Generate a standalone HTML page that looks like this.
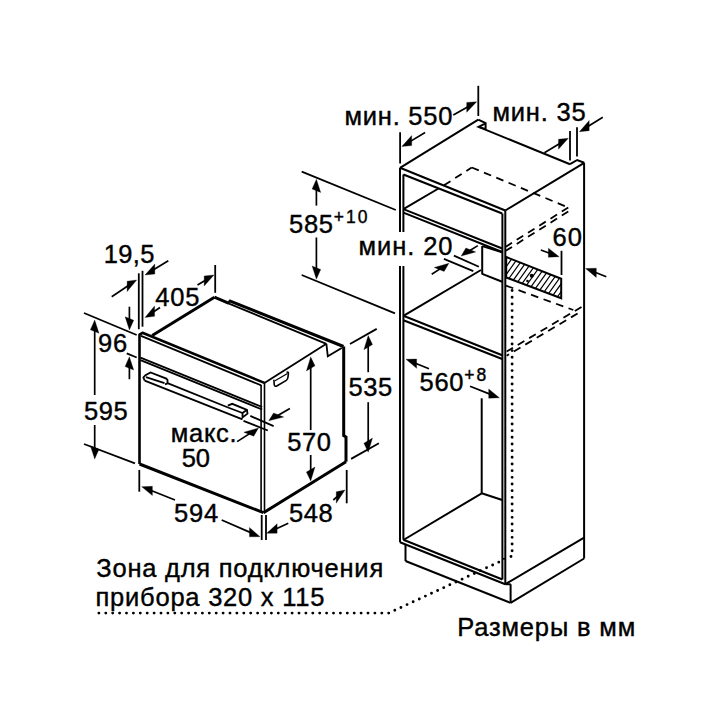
<!DOCTYPE html>
<html><head><meta charset="utf-8"><style>
html,body{margin:0;padding:0;background:#fff;width:720px;height:720px;overflow:hidden}
svg{display:block}
text{font-family:"Liberation Sans",sans-serif;fill:#000;stroke:#000;stroke-width:0.4px}
</style></head><body>
<svg width="720" height="720" viewBox="0 0 720 720" stroke="#000" stroke-linecap="butt">
<line x1="400" y1="167.8" x2="400" y2="232" stroke-width="2.0" />
<line x1="400" y1="266" x2="400" y2="542.3" stroke-width="2.0" />
<line x1="403.4" y1="174.5" x2="403.4" y2="232" stroke-width="2.0" />
<line x1="403.4" y1="266" x2="403.4" y2="539.8" stroke-width="2.0" />
<line x1="400" y1="167.8" x2="505.3" y2="210.5" stroke-width="2.0" />
<line x1="403.4" y1="174.5" x2="502.2" y2="213.5" stroke-width="2.0" />
<line x1="505.3" y1="210.5" x2="505.3" y2="584.2" stroke-width="2.0" />
<line x1="502.4" y1="213.5" x2="502.4" y2="579.5" stroke-width="2.0" />
<line x1="400" y1="542.3" x2="505.3" y2="584.2" stroke-width="2.0" />
<line x1="403.4" y1="539.8" x2="502.4" y2="579.5" stroke-width="2.0" />
<line x1="400" y1="167.8" x2="478.3" y2="119.7" stroke-width="2.0" />
<path d="M478.3,119.7 L485.6,123.1 L485.6,129.2 L478.6,126.9 L485.6,123.3" stroke-width="2.0" fill="none" />
<line x1="478.6" y1="126.9" x2="570" y2="164.2" stroke-width="2.0" />
<path d="M570,164.2 L577.2,160 L584.2,162.8" stroke-width="2.0" fill="none" />
<line x1="584.1" y1="162.8" x2="584.1" y2="558.5" stroke-width="2.0" />
<line x1="584.2" y1="162.8" x2="505.3" y2="210.5" stroke-width="2.0" />
<line x1="400.1" y1="132.3" x2="400.1" y2="163.5" stroke-width="1.8" />
<line x1="478.3" y1="85.8" x2="478.3" y2="116" stroke-width="1.8" />
<line x1="425.1" y1="132.6" x2="409.96" y2="141.63" stroke-width="1.7"/>
<path d="M401.80,146.50 L411.68,145.62 L411.68,135.60 Z" fill="#000" stroke="#000" stroke-width="0.3" stroke-linejoin="round"/>
<line x1="453.3" y1="115" x2="468.44" y2="106.39" stroke-width="1.7"/>
<path d="M476.70,101.70 L466.70,112.33 L466.70,102.44 Z" fill="#000" stroke="#000" stroke-width="0.3" stroke-linejoin="round"/>
<text x="344.55" y="125" font-size="25.5" textLength="107.83" lengthAdjust="spacing">мин. 550</text>
<line x1="570" y1="131.1" x2="570" y2="160.6" stroke-width="1.8" />
<line x1="577" y1="127.2" x2="577" y2="156.4" stroke-width="1.8" />
<line x1="544.4" y1="152.8" x2="560.18" y2="143.23" stroke-width="1.7"/>
<path d="M568.30,138.30 L558.47,149.29 L558.47,139.24 Z" fill="#000" stroke="#000" stroke-width="0.3" stroke-linejoin="round"/>
<line x1="602.8" y1="117.2" x2="587.48" y2="126.70" stroke-width="1.7"/>
<path d="M579.40,131.70 L589.18,130.70 L589.18,120.58 Z" fill="#000" stroke="#000" stroke-width="0.3" stroke-linejoin="round"/>
<text x="492.45" y="120.6" font-size="25.5" textLength="93.21" lengthAdjust="spacing">мин. 35</text>
<line x1="403.4" y1="209.1" x2="502.2" y2="248.5" stroke-width="2.0" />
<line x1="403.4" y1="212.6" x2="502.2" y2="252" stroke-width="2.0" />
<line x1="403.4" y1="209.1" x2="438.5" y2="188.5" stroke-width="2.0" />
<line x1="444" y1="185.3" x2="471.7" y2="167.5" stroke-width="1.8" stroke-dasharray="7.7,5.6"/>
<line x1="471.7" y1="167.5" x2="568.3" y2="207.5" stroke-width="1.8" stroke-dasharray="7.7,5.6"/>
<line x1="568.3" y1="207.5" x2="505.8" y2="246.7" stroke-width="1.8" stroke-dasharray="7.7,5.6"/>
<line x1="568.3" y1="211.5" x2="505.8" y2="250.8" stroke-width="1.8" stroke-dasharray="7.7,5.6"/>
<text x="358.55" y="254.7" font-size="25.5" textLength="93.91" lengthAdjust="spacing">мин. 20</text>
<line x1="477.8" y1="245.6" x2="469.14" y2="251.04" stroke-width="1.7"/>
<path d="M461.10,256.10 L475.77,251.95 L465.90,248.00 Z" fill="#000" stroke="#000" stroke-width="0.3" stroke-linejoin="round"/>
<line x1="431.7" y1="274.2" x2="440.88" y2="268.39" stroke-width="1.7"/>
<path d="M448.90,263.30 L444.11,271.43 L434.26,267.49 Z" fill="#000" stroke="#000" stroke-width="0.3" stroke-linejoin="round"/>
<line x1="453.9" y1="255.6" x2="478.9" y2="266.7" stroke-width="1.8" />
<line x1="443.9" y1="258.9" x2="473.3" y2="271.1" stroke-width="1.8" />
<line x1="482.2" y1="246" x2="482.2" y2="274.4" stroke-width="2.0" />
<line x1="482.2" y1="246.1" x2="502.2" y2="252.2" stroke-width="2.0" />
<line x1="482.2" y1="273.9" x2="502.2" y2="281.7" stroke-width="2.0" />
<clipPath id="hc"><path d="M506.2,257 L561.2,278.7 L561.2,298.2 L506.2,277.5 Z"/></clipPath>
<path d="M422.80,305 L458.51,255 M428.40,305 L464.11,255 M434.00,305 L469.71,255 M439.60,305 L475.31,255 M445.20,305 L480.91,255 M450.80,305 L486.51,255 M456.40,305 L492.11,255 M462.00,305 L497.71,255 M467.60,305 L503.31,255 M473.20,305 L508.91,255 M478.80,305 L514.51,255 M484.40,305 L520.11,255 M490.00,305 L525.71,255 M495.60,305 L531.31,255 M501.20,305 L536.91,255 M506.80,305 L542.51,255 M512.40,305 L548.11,255 M518.00,305 L553.71,255 M523.60,305 L559.31,255 M529.20,305 L564.91,255 M534.80,305 L570.51,255 M540.40,305 L576.11,255 M546.00,305 L581.71,255 M551.60,305 L587.31,255 M557.20,305 L592.91,255 M562.80,305 L598.51,255 M568.40,305 L604.11,255 M574.00,305 L609.71,255 M579.60,305 L615.31,255 M585.20,305 L620.91,255 M590.80,305 L626.51,255 M596.40,305 L632.11,255 M602.00,305 L637.71,255 M607.60,305 L643.31,255 M613.20,305 L648.91,255 M618.80,305 L654.51,255 M624.40,305 L660.11,255 M630.00,305 L665.71,255 M635.60,305 L671.31,255 M641.20,305 L676.91,255 M646.80,305 L682.51,255 M652.40,305 L688.11,255 M658.00,305 L693.71,255 M663.60,305 L699.31,255 M669.20,305 L704.91,255 M674.80,305 L710.51,255 M680.40,305 L716.11,255 M686.00,305 L721.71,255 M691.60,305 L727.31,255 M697.20,305 L732.91,255 M702.80,305 L738.51,255 M708.40,305 L744.11,255" stroke-width="1.2" clip-path="url(#hc)"/>
<path d="M506.2,257 L561.2,278.7 L561.2,298.2 L506.2,277.5 Z" stroke-width="2.0" fill="none" />
<circle cx="531.7" cy="275.8" r="2" fill="#000" stroke="none"/>
<circle cx="527.5" cy="281" r="1.3" fill="#000" stroke="none"/>
<line x1="506" y1="285.65" x2="573.3" y2="310" stroke-width="1.8" stroke-dasharray="7.7,5.6"/>
<line x1="581.5" y1="307" x2="506.7" y2="351.5" stroke-width="1.8" stroke-dasharray="7.7,5.6"/>
<line x1="580" y1="312" x2="506.7" y2="355.7" stroke-width="1.8" stroke-dasharray="7.7,5.6" stroke-dashoffset="10.5"/>
<text x="552.55" y="245.6" font-size="25.5" textLength="29.38" lengthAdjust="spacing">60</text>
<line x1="540.8" y1="250" x2="550.27" y2="253.45" stroke-width="1.7"/>
<path d="M559.20,256.70 L548.39,257.34 L548.39,248.19 Z" fill="#000" stroke="#000" stroke-width="0.3" stroke-linejoin="round"/>
<line x1="561.5" y1="250.8" x2="561.5" y2="275" stroke-width="1.8" />
<line x1="606.3" y1="276.7" x2="594.45" y2="272.06" stroke-width="1.7"/>
<path d="M585.60,268.60 L596.31,277.41 L596.31,268.17 Z" fill="#000" stroke="#000" stroke-width="0.3" stroke-linejoin="round"/>
<line x1="403.4" y1="315.8" x2="502.2" y2="355.3" stroke-width="2.0" />
<line x1="403.4" y1="320.2" x2="502.2" y2="359" stroke-width="2.0" />
<line x1="403.4" y1="315.8" x2="481" y2="270" stroke-width="2.0" />
<line x1="429" y1="368.8" x2="414.78" y2="362.93" stroke-width="1.7"/>
<path d="M406.00,359.30 L416.63,368.34 L416.63,359.04 Z" fill="#000" stroke="#000" stroke-width="0.3" stroke-linejoin="round"/>
<line x1="470" y1="386.3" x2="490.55" y2="394.34" stroke-width="1.7"/>
<path d="M499.40,397.80 L488.69,398.23 L488.69,388.99 Z" fill="#000" stroke="#000" stroke-width="0.3" stroke-linejoin="round"/>
<text x="419.60" y="391.3" font-size="25.5" textLength="43.95" lengthAdjust="spacing">560</text>
<text x="464.25" y="381.3" font-size="17.5" textLength="22.05" lengthAdjust="spacing">+8</text>
<line x1="481.7" y1="398.3" x2="481.7" y2="493.3" stroke-width="2.0" />
<line x1="403.4" y1="540" x2="481.7" y2="493.3" stroke-width="2.0" />
<line x1="481.7" y1="493.3" x2="502.2" y2="500" stroke-width="2.0" />
<line x1="405.5" y1="545" x2="405.5" y2="561" stroke-width="2.0" />
<line x1="405.5" y1="561" x2="510.6" y2="602.9" stroke-width="2.0" />
<line x1="510.6" y1="584.2" x2="510.6" y2="602.9" stroke-width="2.0" />
<line x1="505.3" y1="584.2" x2="510.6" y2="584.2" stroke-width="2.0" />
<line x1="502.4" y1="558.8" x2="505.3" y2="558.8" stroke-width="1.6" />
<line x1="505.3" y1="584.2" x2="584.1" y2="537.6" stroke-width="2.0" />
<line x1="510.6" y1="602.9" x2="584.1" y2="558.5" stroke-width="2.0" />
<path d="M98.90,613.10h0 M105.80,613.10h0 M112.70,613.10h0 M119.60,613.10h0 M126.50,613.10h0 M133.40,613.10h0 M140.30,613.10h0 M147.20,613.10h0 M154.10,613.10h0 M161.00,613.10h0 M167.90,613.10h0 M174.80,613.10h0 M181.70,613.10h0 M188.60,613.10h0 M195.50,613.10h0 M202.40,613.10h0 M209.30,613.10h0 M216.20,613.10h0 M223.10,613.10h0 M230.00,613.10h0 M236.90,613.10h0 M243.80,613.10h0 M250.70,613.10h0 M257.60,613.10h0 M264.50,613.10h0 M271.40,613.10h0 M278.30,613.10h0 M285.20,613.10h0 M292.10,613.10h0 M299.00,613.10h0 M305.90,613.10h0 M312.80,613.10h0 M319.70,613.10h0 M326.60,613.10h0 M333.50,613.10h0 M340.40,613.10h0 M347.30,613.10h0 M354.20,613.10h0 M361.10,613.10h0 M368.00,613.10h0 M374.90,613.10h0 M381.80,613.10h0 M388.70,613.10h0 M394.81,610.27h0 M400.93,607.44h0 M407.05,604.61h0 M413.16,601.78h0 M419.27,598.95h0 M425.39,596.12h0 M431.50,593.29h0 M437.62,590.46h0 M443.74,587.63h0 M449.85,584.80h0 M455.97,581.97h0 M462.08,579.14h0 M468.19,576.31h0 M474.31,573.48h0 M480.43,570.65h0 M486.54,567.82h0 M492.65,564.99h0 M498.77,562.16h0 M511.00,556.50h0 M512.10,550.70h0 M512.10,544.03h0 M512.10,537.36h0 M512.10,530.69h0 M512.10,524.02h0 M512.10,517.35h0 M512.10,510.68h0 M512.10,504.01h0 M512.10,497.34h0 M512.10,490.67h0 M512.10,484.00h0 M512.10,477.33h0 M512.10,470.66h0 M512.10,463.99h0 M512.10,457.32h0 M512.10,450.65h0 M512.10,443.98h0 M512.10,437.31h0 M512.10,430.64h0 M512.10,423.97h0 M512.10,417.30h0 M512.10,410.63h0 M512.10,403.96h0 M512.10,397.29h0 M512.10,390.62h0 M512.10,383.95h0 M512.10,377.28h0 M512.10,370.61h0 M512.10,363.94h0 M512.10,357.27h0 M512.10,350.60h0 M512.10,343.93h0 M512.10,337.26h0 M512.10,330.59h0 M512.10,323.92h0 M512.10,317.25h0 M512.10,310.58h0 M512.10,303.91h0 M512.10,297.24h0 M512.10,290.57h0" stroke-width="2.9" stroke-linecap="round" fill="none"/>
<line x1="301.7" y1="171.7" x2="395.8" y2="210" stroke-width="1.8" />
<line x1="301.7" y1="275" x2="395" y2="313.3" stroke-width="1.8" />
<line x1="316.4" y1="205.6" x2="316.40" y2="188.70" stroke-width="1.7"/>
<path d="M316.40,179.20 L320.70,192.42 L312.10,188.98 Z" fill="#000" stroke="#000" stroke-width="0.3" stroke-linejoin="round"/>
<line x1="316.4" y1="237.5" x2="316.40" y2="269.70" stroke-width="1.7"/>
<path d="M316.40,279.20 L320.70,269.42 L312.10,265.98 Z" fill="#000" stroke="#000" stroke-width="0.3" stroke-linejoin="round"/>
<text x="289.00" y="233" font-size="25.5" textLength="43.95" lengthAdjust="spacing">585</text>
<text x="333.65" y="222.5" font-size="17.5" textLength="33.94" lengthAdjust="spacing">+10</text>
<path d="M139.5,464 L139.5,334.6 L142.5,332.8 L264.4,382.9" stroke-width="2.6" fill="none" stroke-linejoin="round"/>
<line x1="141" y1="335.9" x2="261.2" y2="385.4" stroke-width="1.7" />
<line x1="140.5" y1="357.7" x2="262.2" y2="407" stroke-width="1.8" />
<line x1="140.5" y1="360.2" x2="262.2" y2="409.5" stroke-width="1.8" />
<line x1="261.1" y1="385" x2="261.1" y2="512.7" stroke-width="1.6" />
<line x1="264.5" y1="382.5" x2="264.5" y2="512.7" stroke-width="1.6" />
<line x1="139.5" y1="464" x2="263.5" y2="512.7" stroke-width="3.0" />
<line x1="152.2" y1="335.5" x2="214.4" y2="297.2" stroke-width="3.0" />
<line x1="214.4" y1="297.2" x2="229" y2="303.4" stroke-width="3.0" />
<line x1="229" y1="300.6" x2="343.5" y2="346.5" stroke-width="3.0" />
<line x1="229" y1="303.6" x2="326.4" y2="343.8" stroke-width="1.8" />
<line x1="229" y1="300.6" x2="229" y2="303.8" stroke-width="1.4" />
<line x1="264.4" y1="382.9" x2="326.4" y2="343.8" stroke-width="1.8" />
<path d="M326.4,343.8 L327.8,356.3 L341.7,347.9" stroke-width="1.8" fill="none" />
<path d="M343.7,346.5 L343.7,435.6 L346,437 L346,461.7" stroke-width="3.0" fill="none" />
<line x1="263.5" y1="512.7" x2="346" y2="461.7" stroke-width="3.0" />
<line x1="166.9" y1="382.8" x2="228" y2="407.5" stroke-width="1.8" />
<line x1="144.7" y1="380.6" x2="242.5" y2="419.3" stroke-width="1.8" />
<path d="M144.7,380.6 L143.4,377.5 L145.5,375.2 L150.5,372.5 L166.3,378.6 L167.5,380 L167.5,383.3 L165,384.3" stroke-width="1.8" fill="none" />
<line x1="146" y1="377.2" x2="164.5" y2="383.2" stroke-width="1.8" />
<path d="M227.8,405.6 L232.2,403.8 L247,409.8 L247.5,413.6 L242.5,417.5 L242.5,413 L247,409.8" stroke-width="1.8" fill="none" />
<line x1="242.5" y1="413" x2="228" y2="407.5" stroke-width="1.8" />
<path d="M273.9,379.8 L274.2,384.5 Q274.6,387.2 277.2,385.8 L286.3,380.4 Q287.8,379.4 288,377 L288.4,373.4 Q288.6,371.3 286.6,372.5" stroke-width="1.6" fill="none"/>
<line x1="275" y1="380.8" x2="287.5" y2="373.4" stroke-width="1.2" />
<line x1="138.8" y1="273.3" x2="138.8" y2="329.2" stroke-width="1.8" />
<line x1="142.5" y1="270.8" x2="142.5" y2="326.7" stroke-width="1.8" />
<line x1="111.7" y1="296.7" x2="128.80" y2="285.28" stroke-width="1.7"/>
<path d="M136.70,280.00 L127.14,291.56 L127.14,281.22 Z" fill="#000" stroke="#000" stroke-width="0.3" stroke-linejoin="round"/>
<line x1="168.3" y1="260.8" x2="153.11" y2="270.06" stroke-width="1.7"/>
<path d="M145.00,275.00 L154.82,274.05 L154.82,263.98 Z" fill="#000" stroke="#000" stroke-width="0.3" stroke-linejoin="round"/>
<text x="103.80" y="262.5" font-size="25.5" textLength="50.64" lengthAdjust="spacing">19,5</text>
<line x1="160" y1="307.5" x2="152.90" y2="312.23" stroke-width="1.7"/>
<path d="M145.00,317.50 L154.57,316.29 L154.57,305.95 Z" fill="#000" stroke="#000" stroke-width="0.3" stroke-linejoin="round"/>
<line x1="197.5" y1="285" x2="205.88" y2="279.92" stroke-width="1.7"/>
<path d="M214.00,275.00 L204.17,285.99 L204.17,275.93 Z" fill="#000" stroke="#000" stroke-width="0.3" stroke-linejoin="round"/>
<line x1="215.2" y1="265" x2="215.2" y2="292.8" stroke-width="1.8" />
<text x="155.30" y="305.8" font-size="25.5" textLength="44.05" lengthAdjust="spacing">405</text>
<line x1="84" y1="313" x2="136.7" y2="335" stroke-width="1.8" />
<line x1="126.7" y1="353.3" x2="136.7" y2="357.5" stroke-width="1.8" />
<line x1="129.4" y1="306.7" x2="129.40" y2="320.50" stroke-width="1.7"/>
<path d="M129.40,330.00 L133.70,320.22 L125.10,316.78 Z" fill="#000" stroke="#000" stroke-width="0.3" stroke-linejoin="round"/>
<line x1="129.4" y1="379.2" x2="129.40" y2="366.30" stroke-width="1.7"/>
<path d="M129.40,356.80 L133.70,370.02 L125.10,366.58 Z" fill="#000" stroke="#000" stroke-width="0.3" stroke-linejoin="round"/>
<text x="97.95" y="352" font-size="25.5" textLength="29.17" lengthAdjust="spacing">96</text>
<line x1="94.7" y1="395" x2="94.70" y2="329.50" stroke-width="1.7"/>
<path d="M94.70,320.00 L99.00,333.22 L90.40,329.78 Z" fill="#000" stroke="#000" stroke-width="0.3" stroke-linejoin="round"/>
<line x1="94.7" y1="425" x2="94.70" y2="449.50" stroke-width="1.7"/>
<path d="M94.70,459.00 L99.00,449.22 L90.40,445.78 Z" fill="#000" stroke="#000" stroke-width="0.3" stroke-linejoin="round"/>
<line x1="84" y1="444" x2="135" y2="463.3" stroke-width="1.8" />
<text x="84.00" y="420.2" font-size="25.5" textLength="43.75" lengthAdjust="spacing">595</text>
<text x="170.85" y="442.2" font-size="25.5" textLength="65.80" lengthAdjust="spacing">макс.</text>
<text x="181.80" y="466.7" font-size="25.5" textLength="28.22" lengthAdjust="spacing">50</text>
<line x1="289.9" y1="408.5" x2="276.92" y2="416.03" stroke-width="1.7"/>
<path d="M268.70,420.80 L283.72,417.06 L273.58,413.00 Z" fill="#000" stroke="#000" stroke-width="0.3" stroke-linejoin="round"/>
<line x1="237.1" y1="441.6" x2="250.48" y2="433.10" stroke-width="1.7"/>
<path d="M258.50,428.00 L253.71,436.14 L243.87,432.20 Z" fill="#000" stroke="#000" stroke-width="0.3" stroke-linejoin="round"/>
<line x1="250.3" y1="415.9" x2="273.6" y2="426.1" stroke-width="1.8" />
<line x1="243.5" y1="420.8" x2="267.8" y2="430.5" stroke-width="1.8" />
<line x1="310.7" y1="430" x2="310.70" y2="366.40" stroke-width="1.7"/>
<path d="M310.70,356.90 L315.00,365.82 L306.40,370.98 Z" fill="#000" stroke="#000" stroke-width="0.3" stroke-linejoin="round"/>
<line x1="310.7" y1="455" x2="310.70" y2="471.50" stroke-width="1.7"/>
<path d="M310.70,481.00 L315.00,466.92 L306.40,472.08 Z" fill="#000" stroke="#000" stroke-width="0.3" stroke-linejoin="round"/>
<text x="287.20" y="451.4" font-size="25.5" textLength="43.85" lengthAdjust="spacing">570</text>
<line x1="368.2" y1="372.2" x2="368.20" y2="345.10" stroke-width="1.7"/>
<path d="M368.20,335.60 L372.50,344.52 L363.90,349.68 Z" fill="#000" stroke="#000" stroke-width="0.3" stroke-linejoin="round"/>
<line x1="368.2" y1="402.2" x2="368.20" y2="442.70" stroke-width="1.7"/>
<path d="M368.20,452.20 L372.50,438.12 L363.90,443.28 Z" fill="#000" stroke="#000" stroke-width="0.3" stroke-linejoin="round"/>
<line x1="350" y1="344" x2="376.7" y2="328.9" stroke-width="1.8" />
<line x1="351.1" y1="458.9" x2="378.9" y2="443.3" stroke-width="1.8" />
<text x="348.60" y="395.6" font-size="25.5" textLength="43.55" lengthAdjust="spacing">535</text>
<line x1="139.3" y1="470" x2="139.3" y2="491.7" stroke-width="1.8" />
<line x1="261.7" y1="515" x2="261.7" y2="540" stroke-width="1.8" />
<line x1="266" y1="515" x2="266" y2="540" stroke-width="1.8" />
<line x1="175" y1="500" x2="150.52" y2="490.22" stroke-width="1.7"/>
<path d="M141.70,486.70 L152.38,495.60 L152.38,486.34 Z" fill="#000" stroke="#000" stroke-width="0.3" stroke-linejoin="round"/>
<line x1="221.7" y1="520" x2="251.29" y2="532.90" stroke-width="1.7"/>
<path d="M260.00,536.70 L249.46,536.79 L249.46,527.41 Z" fill="#000" stroke="#000" stroke-width="0.3" stroke-linejoin="round"/>
<text x="174.00" y="521.8" font-size="25.5" textLength="44.30" lengthAdjust="spacing">594</text>
<line x1="346.7" y1="470" x2="346.7" y2="503.3" stroke-width="1.8" />
<line x1="288.3" y1="523.3" x2="275.32" y2="529.31" stroke-width="1.7"/>
<path d="M266.70,533.30 L277.14,533.21 L277.14,523.73 Z" fill="#000" stroke="#000" stroke-width="0.3" stroke-linejoin="round"/>
<line x1="333.3" y1="500" x2="337.78" y2="496.17" stroke-width="1.7"/>
<path d="M345.00,490.00 L336.26,503.13 L336.26,491.82 Z" fill="#000" stroke="#000" stroke-width="0.3" stroke-linejoin="round"/>
<text x="289.00" y="521.7" font-size="25.5" textLength="43.75" lengthAdjust="spacing">548</text>
<text x="96.30" y="576.9" font-size="25.5" textLength="286.89" lengthAdjust="spacing">Зона для подключения</text>
<text x="95.55" y="605.8" font-size="25.5" textLength="228.84" lengthAdjust="spacing">прибора 320 x 115</text>
<text x="457.20" y="635.6" font-size="25.5" textLength="177.97" lengthAdjust="spacing">Размеры в мм</text>
</svg>
</body></html>
